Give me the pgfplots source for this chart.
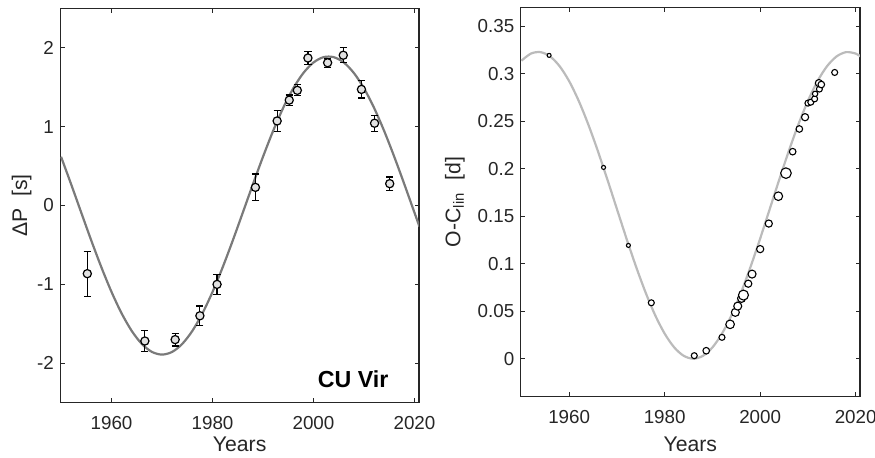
\documentclass[border=0pt]{standalone}
\usepackage{fontspec}
\setmainfont{Liberation Sans}
\usepackage{pgfplots}
\pgfplotsset{compat=1.18}
\usepackage{pgfplotstable}
\definecolor{axc}{HTML}{262626}
\definecolor{fitL}{HTML}{7A7A7A}
\definecolor{fitR}{HTML}{BBBBBB}
\definecolor{mfill}{HTML}{E2E2E2}

\pgfplotstableread{
year val err
1955.2 -0.864 0.285
1966.6 -1.718 0.136
1972.6 -1.700 0.080
1977.5 -1.398 0.124
1980.9 -1.000 0.128
1988.5 0.230 0.170
1992.8 1.072 0.136
1995.2 1.336 0.064
1996.8 1.460 0.070
1998.9 1.870 0.078
2002.8 1.810 0.058
2005.9 1.905 0.095
2009.5 1.472 0.110
2012.1 1.043 0.100
2015.1 0.277 0.085
}\dPdata

\pgfplotstableread{
year oc r
1955.8 0.3194 1.0
1967.2 0.2014 1.0
1972.4 0.1193 1.0
1977.2 0.0589 1.5
1986.2 0.0032 1.5
1988.7 0.0084 1.65
1992.0 0.0225 1.5
1993.7 0.0362 2.15
1994.8 0.0488 2.0
1995.3 0.0554 2.0
1996.1 0.0635 2.0
1996.5 0.0670 2.5
1997.5 0.0790 1.8
1998.3 0.0891 2.0
2000.0 0.1154 1.8
2001.8 0.1423 1.8
2003.8 0.1711 2.15
2005.4 0.1954 2.65
2006.8 0.2180 1.65
2008.2 0.2419 1.65
2009.4 0.2543 1.8
2010.0 0.2691 1.5
2010.6 0.2701 1.5
2011.4 0.2736 1.5
2011.5 0.2789 1.35
2012.4 0.2839 1.5
2012.3 0.2902 1.8
2012.8 0.2887 1.65
2015.6 0.3014 1.5
}\ocdata

\begin{document}
\begin{tikzpicture}
\path[use as bounding box] (0,0) rectangle (437.5pt,228.5pt);
\pgfplotsset{
  common/.style={
    scale only axis,
    anchor=south west,
    axis line style={axc, line width=0.6pt},
    tick style={axc, line width=0.6pt},
    major tick length=2.2pt,
    tick align=inside,
    xtick={1960,1980,2000,2020},
    xticklabels={1960,1980,2000,2020},
    xmin=1949.85, xmax=2020.9,
    ticklabel style={font=\fontsize{9.4}{11}\selectfont, text=axc},
    xticklabel style={anchor=north, inner sep=0pt, yshift=-6.6pt},
    yticklabel style={anchor=east, inner sep=0pt, xshift=-3pt},
    label style={font=\fontsize{10.6}{12}\selectfont, text=axc},
    xlabel=Years,
  }
}
\begin{axis}[common,
  at={(30.15pt,27.15pt)},
  width=179.35pt, height=197.2pt,
  ymin=-2.5, ymax=2.5,
  ytick={-2,-1,0,1,2}, yticklabels={-2,-1,0,1,2},
  xlabel style={at={(axis description cs:0.5,0)}, anchor=center, yshift=-20.75pt},
  ylabel style={at={(axis description cs:-0.1076,0.5)}, anchor=center},
  ylabel={ΔP\ \ [s]},
]
\addplot[fitL, line width=1.1pt, smooth] coordinates {
(1950,0.618) (1952,0.269) (1954,-0.090) (1956,-0.446) (1958,-0.785)
(1960,-1.096) (1962,-1.368) (1964,-1.590) (1966,-1.755) (1968,-1.856)
(1970,-1.890) (1972,-1.856) (1974,-1.755) (1976,-1.590) (1978,-1.368)
(1980,-1.096) (1982,-0.785) (1984,-0.446) (1986,-0.090) (1988,0.269)
(1990,0.618) (1992,0.945) (1994,1.238) (1996,1.486) (1998,1.680)
(2000,1.813) (2002,1.881) (2004,1.881) (2006,1.813) (2008,1.680)
(2010,1.486) (2012,1.238) (2014,0.945) (2016,0.618) (2018,0.269)
(2020,-0.090) (2021,-0.269)
};
\addplot[only marks, mark=*, mark size=2.05pt,
  mark options={draw=black, fill=mfill, line width=0.6pt},
  error bars/.cd, y dir=both, y explicit,
  error bar style={black, line width=0.6pt},
  error mark options={rotate=90, mark size=1.8pt, black, line width=0.6pt}]
  table[x=year, y=val, y error=err] {\dPdata};
\node[anchor=east, inner sep=0pt, text=black, font=\fontsize{11.6}{13}\selectfont\bfseries] at (axis cs:2014.9,-2.2) {CU Vir};
\end{axis}

\begin{axis}[common,
  at={(260.35pt,30.15pt)},
  width=169.65pt, height=194.7pt,
  ymin=-0.04, ymax=0.37,
  ytick={0,0.05,0.1,0.15,0.2,0.25,0.3,0.35},
  yticklabels={0,0.05,0.1,0.15,0.2,0.25,0.3,0.35},
  xlabel style={at={(axis description cs:0.5,0)}, anchor=center, yshift=-23.75pt},
  ylabel style={at={(axis description cs:-0.1936,0.5)}, anchor=center},
  ylabel={O-C\textsubscript{lin}\ \ [d]},
]
\addplot[fitR, line width=1.1pt, smooth] coordinates {
(1950,0.3138) (1952,0.3213) (1954,0.3228) (1956,0.3183) (1958,0.3080)
(1960,0.2922) (1962,0.2715) (1964,0.2467) (1966,0.2188) (1968,0.1887)
(1970,0.1576) (1972,0.1266) (1974,0.0970) (1976,0.0698) (1978,0.0459)
(1980,0.0264) (1982,0.0119) (1984,0.0030) (1986,0.0000) (1988,0.0030)
(1990,0.0119) (1992,0.0264) (1994,0.0459) (1996,0.0698) (1998,0.0970)
(2000,0.1266) (2002,0.1576) (2004,0.1887) (2006,0.2188) (2008,0.2467)
(2010,0.2715) (2012,0.2922) (2014,0.3080) (2016,0.3183) (2018,0.3228)
(2020,0.3213) (2021,0.3183)
};
\addplot[scatter, only marks, mark=*,
  mark options={line width=0.55pt},
  scatter/use mapped color={draw=black, fill=white},
  visualization depends on={\thisrow{r} \as \rad},
  scatter/@pre marker code/.append style={/tikz/mark size=\rad}]
  table[x=year, y=oc] {\ocdata};
\end{axis}
\end{tikzpicture}
\end{document}
